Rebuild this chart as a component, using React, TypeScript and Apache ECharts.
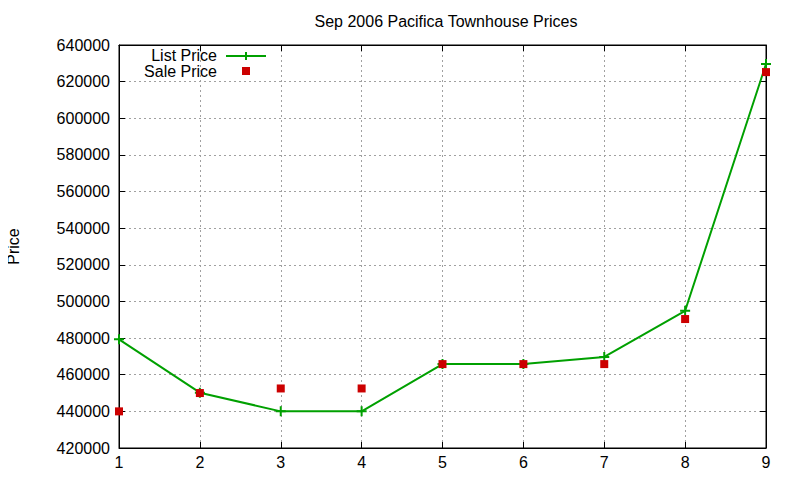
import React, { useEffect, useRef } from 'react';
import * as echarts from 'echarts';

const months = [1, 2, 3, 4, 5, 6, 7, 8, 9];
const listPrice = [479300, 450200, 440000, 440000, 465800, 465800, 469700, 494900, 629600];
const salePrice = [440000, 450000, 452500, 452500, 465800, 465800, 465800, 490400, 625200];

const crossPath = 'path://M4,0H6V4H10V6H6V10H4V6H0V4H4Z';
const font = 'Liberation Sans, Arial, sans-serif';
const green = '#00a000';
const red = '#cc0000';

const App: React.FC = () => {
  const chartRef = useRef<HTMLDivElement>(null);

  useEffect(() => {
    const chart = echarts.init(chartRef.current!, undefined, { renderer: 'svg' });

    const axisCommon = {
      axisLine: { show: true, onZero: false, lineStyle: { color: '#000', width: 1 } },
      axisTick: { show: true, inside: true, length: 6, lineStyle: { color: '#000' } },
    };

    chart.setOption({
      animation: false,
      title: {
        text: 'Sep 2006 Pacifica Townhouse Prices',
        left: 441,
        textAlign: 'center',
        top: 8,
        textStyle: { fontFamily: font, fontSize: 16, fontWeight: 'normal', color: '#000' },
      },
      // legend drawn as graphic so the sale marker stays a small square
      graphic: [
        {
          type: 'text',
          x: 217,
          y: 55,
          style: { text: 'List Price', fontFamily: font, fontSize: 16, fill: '#000', align: 'right', verticalAlign: 'middle' },
        },
        { type: 'line', shape: { x1: 226, y1: 56, x2: 266, y2: 56 }, style: { stroke: green, lineWidth: 2 } },
        { type: 'line', shape: { x1: 246, y1: 52, x2: 246, y2: 60 }, style: { stroke: green, lineWidth: 2 } },
        {
          type: 'text',
          x: 217,
          y: 71,
          style: { text: 'Sale Price', fontFamily: font, fontSize: 16, fill: '#000', align: 'right', verticalAlign: 'middle' },
        },
        { type: 'rect', shape: { x: 242, y: 67, width: 8, height: 8 }, style: { fill: red } },
      ],
      grid: {
        left: 119,
        right: 34,
        top: 45,
        bottom: 32,
        outerBoundsMode: 'none',
        show: true,
        borderColor: '#000',
        borderWidth: 1,
      },
      xAxis: [
        {
          type: 'value',
          min: 1,
          max: 9,
          interval: 1,
          ...axisCommon,
          axisLabel: { fontFamily: font, fontSize: 16, color: '#000', margin: 6 },
          splitLine: { show: true, lineStyle: { color: '#a0a0a0', type: [2, 3] } },
        },
        {
          type: 'value',
          position: 'top',
          min: 1,
          max: 9,
          interval: 1,
          ...axisCommon,
          axisLabel: { show: false },
          splitLine: { show: false },
        },
      ],
      yAxis: [
        {
          type: 'value',
          min: 420000,
          max: 640000,
          interval: 20000,
          ...axisCommon,
          name: 'Price',
          nameLocation: 'middle',
          nameGap: 98,
          nameRotate: 90,
          nameTextStyle: { fontFamily: font, fontSize: 16, color: '#000' },
          axisLabel: { fontFamily: font, fontSize: 16, color: '#000', margin: 9, formatter: (v: number) => String(v) },
          splitLine: { show: true, lineStyle: { color: '#a0a0a0', type: [2, 3] } },
        },
        {
          type: 'value',
          position: 'right',
          min: 420000,
          max: 640000,
          interval: 20000,
          ...axisCommon,
          axisLabel: { show: false },
          splitLine: { show: false },
        },
      ],
      series: [
        {
          name: 'List Price',
          type: 'line',
          data: months.map((m, i) => [m, listPrice[i]]),
          symbol: crossPath,
          symbolSize: 10,
          showAllSymbol: true,
          lineStyle: { color: green, width: 2 },
          itemStyle: { color: green },
          z: 3,
        },
        {
          name: 'Sale Price',
          type: 'scatter',
          data: months.map((m, i) => [m, salePrice[i]]),
          symbol: 'rect',
          symbolSize: 8,
          itemStyle: { color: red, opacity: 1 },
          z: 4,
        },
      ],
    });

    return () => {
      chart.dispose();
    };
  }, []);

  return <div ref={chartRef} style={{ width: 800, height: 480, margin: -8 }} />;
};

export default App;
